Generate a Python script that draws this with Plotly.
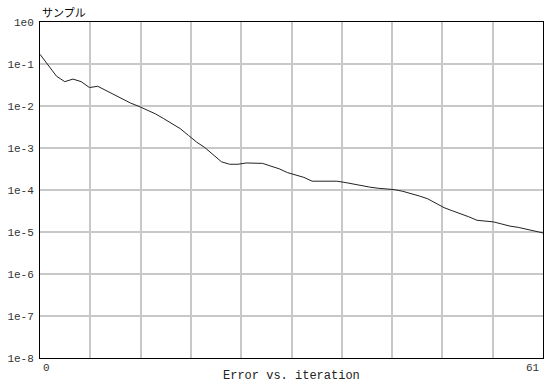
import plotly.graph_objects as go

iterations = list(range(62))
errors = [
    0.170, 0.0955, 0.0513, 0.038, 0.0437, 0.038, 0.0275, 0.0295, 0.0234, 0.0182,
    0.0148, 0.0117, 0.0098, 0.0079, 0.0065, 0.0050, 0.0039, 0.0029, 0.0020, 0.00138,
    0.00102, 0.00071, 0.00047, 0.00041, 0.00041, 0.00044, 0.00044, 0.00043, 0.00037, 0.00032,
    0.00026, 0.00023, 0.00020, 0.000162, 0.000162, 0.000162, 0.000162, 0.000151, 0.000138, 0.000126,
    0.000117, 0.000110, 0.000107, 0.000102, 9.3e-5, 8.3e-5, 7.2e-5, 6.2e-5, 4.8e-5, 3.8e-5,
    3.2e-5, 2.75e-5, 2.3e-5, 1.9e-5, 1.82e-5, 1.74e-5, 1.55e-5, 1.38e-5, 1.29e-5, 1.17e-5,
    1.07e-5, 9.5e-6,
]
y_tick_vals = [1e0, 1e-1, 1e-2, 1e-3, 1e-4, 1e-5, 1e-6, 1e-7, 1e-8]
y_tick_text = ["1e0", "1e-1", "1e-2", "1e-3", "1e-4", "1e-5", "1e-6", "1e-7", "1e-8"]
x_min, x_max = 0, 61
title_text = "Error vs. iteration"
legend_label = "サンプル"

mono = "Liberation Mono, DejaVu Sans Mono, monospace"

fig = go.Figure()
fig.add_trace(go.Scatter(
    x=iterations, y=errors, mode="lines",
    line=dict(color="#222222", width=1),
    showlegend=False, hoverinfo="skip",
))

fig.update_layout(
    width=544, height=387,
    margin=dict(l=40, r=1, t=22, b=29),
    paper_bgcolor="white", plot_bgcolor="white",
    showlegend=False,
    xaxis=dict(
        range=[x_min, x_max], tick0=0, dtick=(x_max - x_min) / 10,
        showgrid=True, gridcolor="#c8c8c8", gridwidth=1.5,
        showticklabels=False, ticks="", zeroline=False,
        showline=True, linecolor="#000000", linewidth=1, mirror=True,
    ),
    yaxis=dict(
        type="log", range=[-8, 0],
        tickvals=y_tick_vals, ticktext=y_tick_text,
        showgrid=True, gridcolor="#c8c8c8", gridwidth=1.5,
        ticks="", zeroline=False, ticklabelstandoff=3,
        tickfont=dict(family=mono, size=11, color="#333333"),
        showline=True, linecolor="#000000", linewidth=1, mirror=True,
    ),
    annotations=[
        dict(x=x_min, y=0, xref="x", yref="paper", text=str(x_min),
             xanchor="left", yanchor="top", yshift=-2, xshift=1, showarrow=False,
             font=dict(family=mono, size=11, color="#333333")),
        dict(x=x_max, y=0, xref="x", yref="paper", text=str(x_max),
             xanchor="right", yanchor="top", yshift=-2, xshift=-1, showarrow=False,
             font=dict(family=mono, size=11, color="#333333")),
        dict(x=0.5, y=0, xref="paper", yref="paper", text=title_text,
             xanchor="center", yanchor="top", yshift=-9, showarrow=False,
             font=dict(family=mono, size=12, color="#222222")),
        dict(x=0, y=1, xref="paper", yref="paper", text=legend_label,
             xanchor="left", yanchor="bottom", xshift=0, yshift=0, showarrow=False,
             font=dict(family="Noto Sans CJK JP", size=11, color="#000000")),
    ],
)

fig.write_html(
    "out.html",
    config={"displayModeBar": False},
    post_script="document.body.style.margin='0';document.body.style.overflow='hidden';",
)
